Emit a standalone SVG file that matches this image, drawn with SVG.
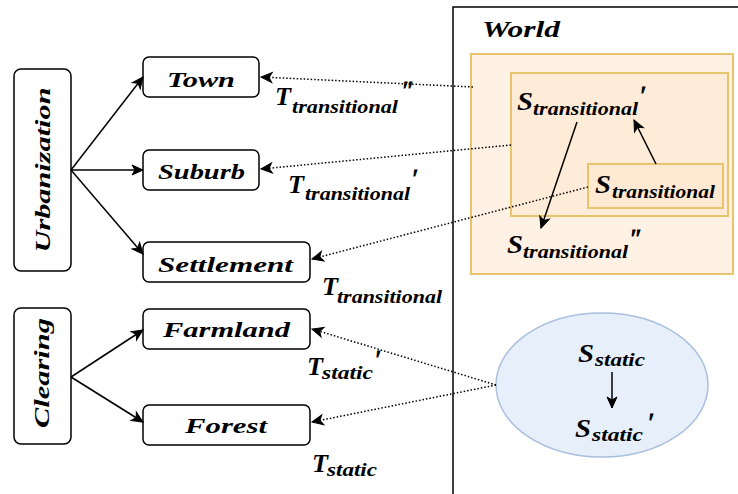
<svg xmlns="http://www.w3.org/2000/svg" width="738" height="494" viewBox="0 0 738 494">
<style>
text{font-family:"Liberation Serif","DejaVu Serif",serif;font-style:italic;font-weight:bold;fill:#000}
.box{fill:#fff;stroke:#000;stroke-width:1.5}
.lbl{font-size:21px;text-anchor:middle}
.big{font-size:26px}
.sub{font-size:19px}
.pr{font-size:26px;font-weight:normal;stroke:#000;stroke-width:0.8}
.edge{fill:none;stroke:#000;stroke-width:1.5}
.dot{fill:none;stroke:#000;stroke-width:1.5;stroke-dasharray:1.5 2}
</style>
<defs>
<marker id="ah" markerUnits="userSpaceOnUse" markerWidth="14" markerHeight="12" refX="11" refY="5" orient="auto" overflow="visible">
<path d="M0,0 L11,5 L0,10 L3,5 Z" fill="#000" stroke="#000" stroke-width="1"/>
</marker>
</defs>
<rect width="738" height="494" fill="#fff"/>
<g id="world">
<path d="M453,494 V7 H738" fill="none" stroke="#000" stroke-width="1.5"/>
<text x="482" y="37" font-size="24" textLength="78" lengthAdjust="spacingAndGlyphs">World</text>
</g>
<g id="transitional-region">
<rect x="471" y="54" width="262" height="220" fill="#ffe6cc" fill-opacity="0.5" stroke="#e8c46c" stroke-width="2"/>
<rect x="511" y="73" width="217" height="143" fill="#ffe6cc" fill-opacity="0.5" stroke="#e8c46c" stroke-width="2"/>
<rect x="588" y="164" width="135" height="44" fill="#ffe6cc" fill-opacity="0.5" stroke="#e8c46c" stroke-width="2"/>
</g>
<g id="s-transitional-prime">
<text><tspan class="big" x="517" y="110" textLength="16" lengthAdjust="spacingAndGlyphs">S</tspan><tspan class="sub" x="533" y="115" textLength="105" lengthAdjust="spacingAndGlyphs">transitional</tspan><tspan class="pr" x="639" y="104">′</tspan></text>
</g>
<g id="s-transitional">
<text><tspan class="big" x="595" y="193" textLength="16" lengthAdjust="spacingAndGlyphs">S</tspan><tspan class="sub" x="612" y="198" textLength="103" lengthAdjust="spacingAndGlyphs">transitional</tspan></text>
</g>
<g id="s-transitional-dprime">
<text><tspan class="big" x="507" y="253" textLength="16" lengthAdjust="spacingAndGlyphs">S</tspan><tspan class="sub" x="523" y="258" textLength="105" lengthAdjust="spacingAndGlyphs">transitional</tspan><tspan class="pr" x="629" y="247">″</tspan></text>
</g>
<g id="static-region">
<ellipse cx="602" cy="385" rx="106" ry="72" fill="#e7effb" stroke="#a9bfdf" stroke-width="1.5"/>
</g>
<g id="s-static">
<text><tspan class="big" x="578" y="362" textLength="16" lengthAdjust="spacingAndGlyphs">S</tspan><tspan class="sub" x="595" y="366" textLength="50" lengthAdjust="spacingAndGlyphs">static</tspan></text>
</g>
<g id="s-static-prime">
<text><tspan class="big" x="575" y="437" textLength="16" lengthAdjust="spacingAndGlyphs">S</tspan><tspan class="sub" x="592" y="441" textLength="51" lengthAdjust="spacingAndGlyphs">static</tspan><tspan class="pr" x="647" y="431">′</tspan></text>
</g>
<g id="urbanization">
<rect class="box" x="14" y="69" width="57" height="202" rx="7"/>
<text class="lbl" transform="translate(50,170) rotate(-90)" x="0" y="0" style="font-size:22px" textLength="165" lengthAdjust="spacingAndGlyphs">Urbanization</text>
</g>
<g id="clearing">
<rect class="box" x="14" y="308" width="57" height="136" rx="7"/>
<text class="lbl" transform="translate(49,373) rotate(-90)" x="0" y="0" style="font-size:22px" textLength="110" lengthAdjust="spacingAndGlyphs">Clearing</text>
</g>
<g id="town">
<rect class="box" x="143" y="57" width="116" height="40" rx="6"/>
<text class="lbl" x="201" y="87" textLength="68" lengthAdjust="spacingAndGlyphs">Town</text>
</g>
<g id="suburb">
<rect class="box" x="143" y="150" width="116" height="40" rx="6"/>
<text class="lbl" x="201.5" y="179" textLength="87" lengthAdjust="spacingAndGlyphs">Suburb</text>
</g>
<g id="settlement">
<rect class="box" x="143" y="242" width="167" height="40" rx="6"/>
<text class="lbl" x="225.5" y="272" textLength="135" lengthAdjust="spacingAndGlyphs">Settlement</text>
</g>
<g id="farmland">
<rect class="box" x="143" y="309" width="167" height="40" rx="6"/>
<text class="lbl" x="226.5" y="337" textLength="127" lengthAdjust="spacingAndGlyphs">Farmland</text>
</g>
<g id="forest">
<rect class="box" x="143" y="405" width="167" height="40" rx="6"/>
<text class="lbl" x="226" y="433" textLength="82" lengthAdjust="spacingAndGlyphs">Forest</text>
</g>
<g id="connectors">
<line class="edge" x1="71" y1="170" x2="143" y2="77" marker-end="url(#ah)"/>
<line class="edge" x1="71" y1="170" x2="143" y2="170" marker-end="url(#ah)"/>
<line class="edge" x1="71" y1="170" x2="143" y2="254" marker-end="url(#ah)"/>
<line class="edge" x1="71" y1="377" x2="143" y2="330" marker-end="url(#ah)"/>
<line class="edge" x1="71" y1="377" x2="143" y2="422" marker-end="url(#ah)"/>
<line class="dot" x1="473" y1="87" x2="261" y2="77" marker-end="url(#ah)"/>
<line class="dot" x1="511" y1="145" x2="261" y2="169" marker-end="url(#ah)"/>
<line class="dot" x1="588" y1="187" x2="312" y2="259" marker-end="url(#ah)"/>
<line class="dot" x1="496" y1="385" x2="312" y2="329" marker-end="url(#ah)"/>
<line class="dot" x1="496" y1="385" x2="312" y2="422" marker-end="url(#ah)"/>
<line class="edge" x1="577" y1="122" x2="541" y2="228" marker-end="url(#ah)"/>
<line class="edge" x1="656" y1="164" x2="634" y2="120" marker-end="url(#ah)"/>
<line class="edge" x1="612" y1="372" x2="612" y2="408" marker-end="url(#ah)"/>
</g>
<g id="t-transitional-dprime">
<text><tspan class="big" x="275" y="105" textLength="16" lengthAdjust="spacingAndGlyphs">T</tspan><tspan class="sub" x="292" y="113" textLength="106" lengthAdjust="spacingAndGlyphs">transitional</tspan><tspan class="pr" x="401" y="99">″</tspan></text>
</g>
<g id="t-transitional-prime">
<text><tspan class="big" x="288" y="193" textLength="16" lengthAdjust="spacingAndGlyphs">T</tspan><tspan class="sub" x="305" y="200" textLength="105" lengthAdjust="spacingAndGlyphs">transitional</tspan><tspan class="pr" x="411" y="187">′</tspan></text>
</g>
<g id="t-transitional">
<text><tspan class="big" x="322" y="295" textLength="16" lengthAdjust="spacingAndGlyphs">T</tspan><tspan class="sub" x="337" y="303" textLength="105" lengthAdjust="spacingAndGlyphs">transitional</tspan></text>
</g>
<g id="t-static-prime">
<text><tspan class="big" x="307" y="375" textLength="16" lengthAdjust="spacingAndGlyphs">T</tspan><tspan class="sub" x="322" y="379" textLength="51" lengthAdjust="spacingAndGlyphs">static</tspan><tspan class="pr" x="374" y="368">′</tspan></text>
</g>
<g id="t-static">
<text><tspan class="big" x="312" y="472" textLength="16" lengthAdjust="spacingAndGlyphs">T</tspan><tspan class="sub" x="327" y="476" textLength="50" lengthAdjust="spacingAndGlyphs">static</tspan></text>
</g>
</svg>
